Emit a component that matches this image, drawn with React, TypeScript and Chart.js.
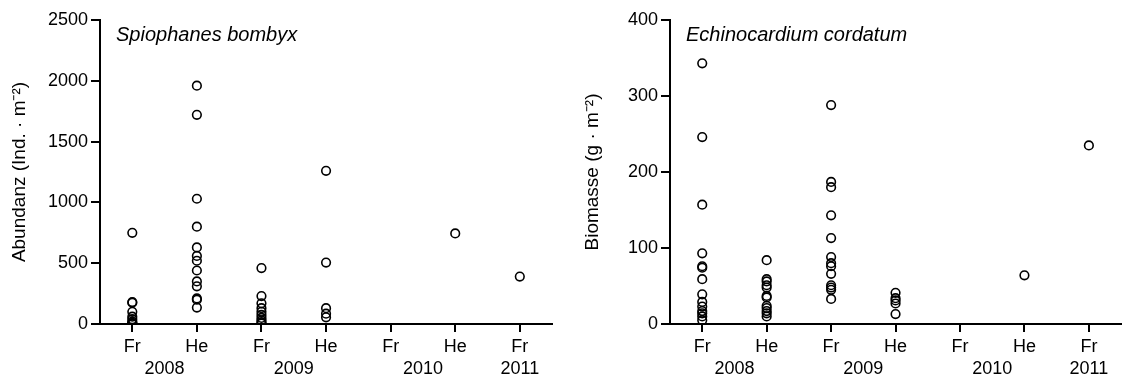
import React, { useEffect, useRef } from "react";
import { Chart, registerables } from "chart.js";

Chart.register(...registerables);

// Category labels (season) and year of each category
const categories = ["Fr", "He", "Fr", "He", "Fr", "He", "Fr"];
const categoryYears = ["2008", "2008", "2009", "2009", "2010", "2010", "2011"];

// Spiophanes bombyx – Abundanz (Ind. · m⁻²)
const spioFr2008 = [750, 180, 175, 100, 60, 40, 20, 10, 3, 0];
const spioHe2008 = [1960, 1720, 1030, 800, 630, 560, 520, 440, 350, 310, 210, 200, 135];
const spioFr2009 = [460, 230, 170, 130, 100, 75, 50, 30, 15, 5];
const spioHe2009 = [1260, 505, 130, 85, 55];
const spioFr2010: number[] = [];
const spioHe2010 = [745];
const spioFr2011 = [390];

// Echinocardium cordatum – Biomasse (g · m⁻²)
const echiFr2008 = [343, 246, 157, 93, 76, 74, 59, 39, 29, 23, 17, 14, 10, 5];
const echiHe2008 = [84, 59, 56, 51, 48, 37, 35, 24, 21, 17, 14, 10];
const echiFr2009 = [288, 187, 180, 143, 113, 88, 80, 76, 66, 51, 48, 45, 33];
const echiHe2009 = [41, 34, 31, 27, 13];
const echiFr2010: number[] = [];
const echiHe2010 = [64];
const echiFr2011 = [235];

const spioGroups = [spioFr2008, spioHe2008, spioFr2009, spioHe2009, spioFr2010, spioHe2010, spioFr2011];
const echiGroups = [echiFr2008, echiHe2008, echiFr2009, echiHe2009, echiFr2010, echiHe2010, echiFr2011];

const FONT = "'Liberation Sans', Arial, Helvetica, sans-serif";
const INK = "#000";

function yearTicks() {
  const uniq = Array.from(new Set(categoryYears));
  return uniq.map((y) => {
    const idx = categoryYears.map((v, i) => (v === y ? i : -1)).filter((i) => i >= 0);
    return { value: idx.reduce((a, b) => a + b, 0) / idx.length, label: y };
  });
}

interface PanelProps {
  groups: number[][];
  species: string;
  yTitle: string;
  yMax: number;
  yStep: number;
  yAxisWidth: number;
  yTitlePad: number;
  width: number;
}

function Panel({ groups, species, yTitle, yMax, yStep, yAxisWidth, yTitlePad, width }: PanelProps) {
  const ref = useRef<HTMLCanvasElement | null>(null);
  useEffect(() => {
    if (!ref.current) return;
    const points = groups.flatMap((g, i) => g.map((v) => ({ x: i, y: v })));
    const yt = yearTicks();
    const speciesPlugin = {
      id: "speciesTitle",
      afterDraw(chart: any) {
        const { ctx, chartArea } = chart;
        ctx.save();
        ctx.font = `italic 20px ${FONT}`;
        ctx.fillStyle = INK;
        ctx.textBaseline = "middle";
        ctx.textAlign = "left";
        ctx.fillText(species, chartArea.left + 16, chartArea.top + 15);
        ctx.restore();
      },
    };
    const chart = new Chart(ref.current, {
      type: "scatter",
      data: {
        datasets: [
          {
            data: points,
            pointRadius: 4.3,
            pointHoverRadius: 4.3,
            borderWidth: 1.6,
            borderColor: INK,
            backgroundColor: "rgba(0,0,0,0)",
            pointStyle: "circle",
          },
        ],
      },
      options: {
        responsive: false,
        animation: false,
        events: [],
        layout: { padding: { top: 20, right: 0, bottom: 0, left: 0 } },
        plugins: { legend: { display: false }, tooltip: { enabled: false } },
        scales: {
          x: {
            type: "linear",
            position: "bottom",
            weight: 0,
            min: -0.5,
            max: categories.length - 0.5,
            afterBuildTicks: (s: any) => {
              s.ticks = categories.map((_, i) => ({ value: i }));
            },
            afterFit: (s: any) => {
              s.height = 34;
            },
            ticks: {
              autoSkip: false,
              maxRotation: 0,
              padding: 4,
              color: INK,
              font: { family: FONT, size: 18 },
              callback: (v: any) => categories[Math.round(Number(v))] ?? "",
            },
            grid: { drawOnChartArea: false, drawTicks: true, tickLength: 8, lineWidth: 2, color: INK },
            border: { display: true, color: INK, width: 2 },
          },
          year: {
            type: "linear",
            position: "bottom",
            weight: 1,
            min: -0.5,
            max: categories.length - 0.5,
            afterBuildTicks: (s: any) => {
              s.ticks = yt.map((t) => ({ value: t.value }));
            },
            afterFit: (s: any) => {
              s.height = 20;
            },
            ticks: {
              autoSkip: false,
              maxRotation: 0,
              padding: 0,
              color: INK,
              font: { family: FONT, size: 18 },
              callback: (v: any) => {
                const t = yt.find((tt) => Math.abs(tt.value - Number(v)) < 1e-6);
                return t ? t.label : "";
              },
            },
            grid: { display: false, drawTicks: false },
            border: { display: false },
          },
          y: {
            type: "linear",
            position: "left",
            min: 0,
            max: yMax,
            afterFit: (s: any) => {
              s.width = yAxisWidth;
            },
            ticks: {
              stepSize: yStep,
              padding: 3,
              color: INK,
              font: { family: FONT, size: 18 },
              callback: (v: any) => String(v),
            },
            grid: { drawOnChartArea: false, drawTicks: true, tickLength: 9, lineWidth: 2, color: INK },
            border: { display: true, color: INK, width: 2 },
            title: {
              display: true,
              text: yTitle,
              color: INK,
              font: { family: FONT, size: 19 },
              padding: { top: yTitlePad, bottom: 0 },
            },
          },
        },
      },
      plugins: [speciesPlugin],
    } as any);
    return () => chart.destroy();
  }, []);
  return <canvas ref={ref} width={width} height={378} style={{ display: "block" }} />;
}

export default function App() {
  return (
    <div
      style={{
        position: "fixed",
        left: 0,
        top: 0,
        width: 1122,
        height: 378,
        overflow: "hidden",
        background: "#fff",
      }}
    >
      <div style={{ position: "absolute", left: 0, top: 0 }}>
        <Panel
          groups={spioGroups}
          species="Spiophanes bombyx"
          yTitle="Abundanz (Ind. · m⁻²)"
          yMax={2500}
          yStep={500}
          yAxisWidth={100}
          yTitlePad={8.5}
          width={558}
        />
      </div>
      <div style={{ position: "absolute", left: 560, top: 0 }}>
        <Panel
          groups={echiGroups}
          species="Echinocardium cordatum"
          yTitle="Biomasse (g · m⁻²)"
          yMax={400}
          yStep={100}
          yAxisWidth={110}
          yTitlePad={21.5}
          width={567}
        />
      </div>
    </div>
  );
}
